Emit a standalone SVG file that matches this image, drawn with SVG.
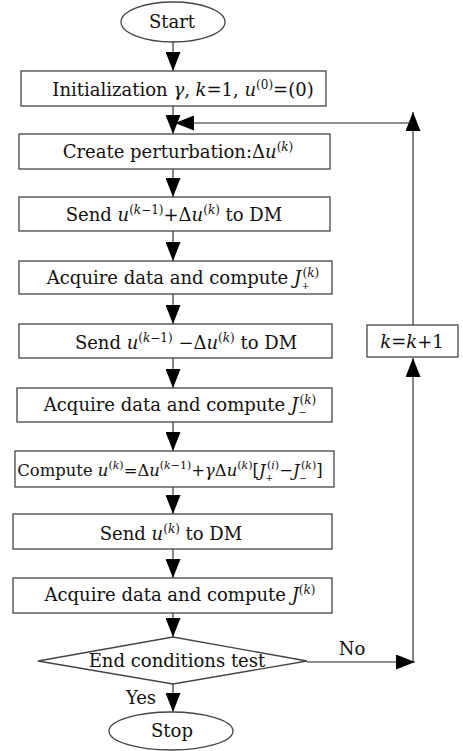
<svg xmlns="http://www.w3.org/2000/svg" width="463" height="751" viewBox="0 0 463 751">
<style>
text{font-family:"DejaVu Serif","Liberation Serif",serif;font-size:18px;fill:#111;text-anchor:middle}
.i{font-style:italic}
.sup{font-size:12px}
.sub{font-size:10px}
.sm{font-size:16.4px}
.sm .sup{font-size:11px}
.sm .sub{font-size:9px}
.box{fill:#fff;stroke:#444;stroke-width:1.3}
.ln{fill:none;stroke:#222;stroke-width:1.1}
</style>
<defs>
<marker id="ah" viewBox="0 0 19 15" refX="19" refY="7.5" markerWidth="19" markerHeight="15" markerUnits="userSpaceOnUse" orient="auto"><path d="M0,0 L19,7.5 L0,15 z" fill="#000"/></marker>
</defs>
<rect width="463" height="751" fill="#fff"/>
<g id="connectors">
<path class="ln" d="M173 42 V71" marker-end="url(#ah)"/>
<path class="ln" d="M173 106 V134" marker-end="url(#ah)"/>
<path class="ln" d="M173 169 V197" marker-end="url(#ah)"/>
<path class="ln" d="M173 231 V261" marker-end="url(#ah)"/>
<path class="ln" d="M173 294 V324" marker-end="url(#ah)"/>
<path class="ln" d="M173 358 V388" marker-end="url(#ah)"/>
<path class="ln" d="M173 422 V451" marker-end="url(#ah)"/>
<path class="ln" d="M173 487 V514" marker-end="url(#ah)"/>
<path class="ln" d="M173 549 V578" marker-end="url(#ah)"/>
<path class="ln" d="M173 613 V637" marker-end="url(#ah)"/>
<path class="ln" d="M173 684 V712" marker-end="url(#ah)"/>
<path class="ln" d="M307 662 H415" marker-end="url(#ah)"/>
<path class="ln" d="M413 662 V358" marker-end="url(#ah)"/>
<path class="ln" d="M413 325 V112" marker-end="url(#ah)"/>
<path class="ln" d="M413 123 H175" marker-end="url(#ah)"/>
<text x="352" y="655">No</text>
<text x="141" y="704">Yes</text>
</g>
<g id="start">
<ellipse class="box" cx="173" cy="22" rx="52" ry="20"/>
<text x="172" y="28">Start</text>
</g>
<g id="init">
<rect class="box" x="21" y="71" width="305" height="35"/>
<text x="183" y="96">Initialization <tspan class="i">γ</tspan>, <tspan class="i">k</tspan>=1, <tspan class="i">u</tspan><tspan class="sup" dy="-7">(0)</tspan><tspan dy="7">=(0)</tspan></text>
</g>
<g id="perturb">
<rect class="box" x="19" y="134" width="311" height="35"/>
<text x="178" y="158">Create perturbation:Δ<tspan class="i">u</tspan><tspan class="sup" dy="-7">(<tspan class="i">k</tspan>)</tspan></text>
</g>
<g id="send-plus">
<rect class="box" x="19" y="197" width="311" height="34"/>
<text x="174" y="221">Send <tspan class="i">u</tspan><tspan class="sup" dy="-7">(<tspan class="i">k</tspan>−1)</tspan><tspan dy="7">+Δ</tspan><tspan class="i">u</tspan><tspan class="sup" dy="-7">(<tspan class="i">k</tspan>)</tspan><tspan dy="7"> to DM</tspan></text>
</g>
<g id="acquire-plus">
<rect class="box" x="19" y="261" width="313" height="33"/>
<text x="183" y="284">Acquire data and compute <tspan class="i">J</tspan><tspan class="sub" dy="5">+</tspan><tspan class="sup" dx="-7" dy="-12">(<tspan class="i">k</tspan>)</tspan></text>
</g>
<g id="send-minus">
<rect class="box" x="19" y="324" width="313" height="34"/>
<text x="186" y="349">Send <tspan class="i">u</tspan><tspan class="sup" dy="-7">(<tspan class="i">k</tspan>−1)</tspan><tspan dy="7"> −Δ</tspan><tspan class="i">u</tspan><tspan class="sup" dy="-7">(<tspan class="i">k</tspan>)</tspan><tspan dy="7"> to DM</tspan></text>
</g>
<g id="increment">
<rect class="box" x="367" y="325" width="91" height="32"/>
<text x="412" y="348"><tspan class="i">k</tspan>=<tspan class="i">k</tspan>+1</text>
</g>
<g id="acquire-minus">
<rect class="box" x="17" y="388" width="315" height="34"/>
<text x="180" y="411">Acquire data and compute <tspan class="i">J</tspan><tspan class="sub" dy="5">−</tspan><tspan class="sup" dx="-7" dy="-12">(<tspan class="i">k</tspan>)</tspan></text>
</g>
<g id="compute">
<rect class="box" x="15" y="451" width="319" height="36"/>
<text class="sm" x="170" y="476">Compute <tspan class="i">u</tspan><tspan class="sup" dy="-7">(<tspan class="i">k</tspan>)</tspan><tspan dy="7">=Δ</tspan><tspan class="i">u</tspan><tspan class="sup" dy="-7">(<tspan class="i">k</tspan>−1)</tspan><tspan dy="7">+</tspan><tspan class="i">γ</tspan>Δ<tspan class="i">u</tspan><tspan class="sup" dy="-7">(<tspan class="i">k</tspan>)</tspan><tspan dy="7">[</tspan><tspan class="i">J</tspan><tspan class="sub" dy="5">+</tspan><tspan class="sup" dx="-6" dy="-12">(<tspan class="i">i</tspan>)</tspan><tspan dy="7">−</tspan><tspan class="i">J</tspan><tspan class="sub" dy="5">−</tspan><tspan class="sup" dx="-6" dy="-12">(<tspan class="i">k</tspan>)</tspan><tspan dy="7">]</tspan></text>
</g>
<g id="send-u">
<rect class="box" x="13" y="514" width="319" height="35"/>
<text x="171" y="540">Send <tspan class="i">u</tspan><tspan class="sup" dy="-7">(<tspan class="i">k</tspan>)</tspan><tspan dy="7"> to DM</tspan></text>
</g>
<g id="acquire-j">
<rect class="box" x="13" y="578" width="319" height="35"/>
<text x="180" y="601">Acquire data and compute <tspan class="i">J</tspan><tspan class="sup" dy="-7">(<tspan class="i">k</tspan>)</tspan></text>
</g>
<g id="test">
<polygon class="box" points="38,661 173,637 307,661 173,684"/>
<text x="177" y="667">End conditions test</text>
</g>
<g id="stop">
<ellipse class="box" cx="171" cy="731" rx="62" ry="19"/>
<text x="172" y="737">Stop</text>
</g>
</svg>
